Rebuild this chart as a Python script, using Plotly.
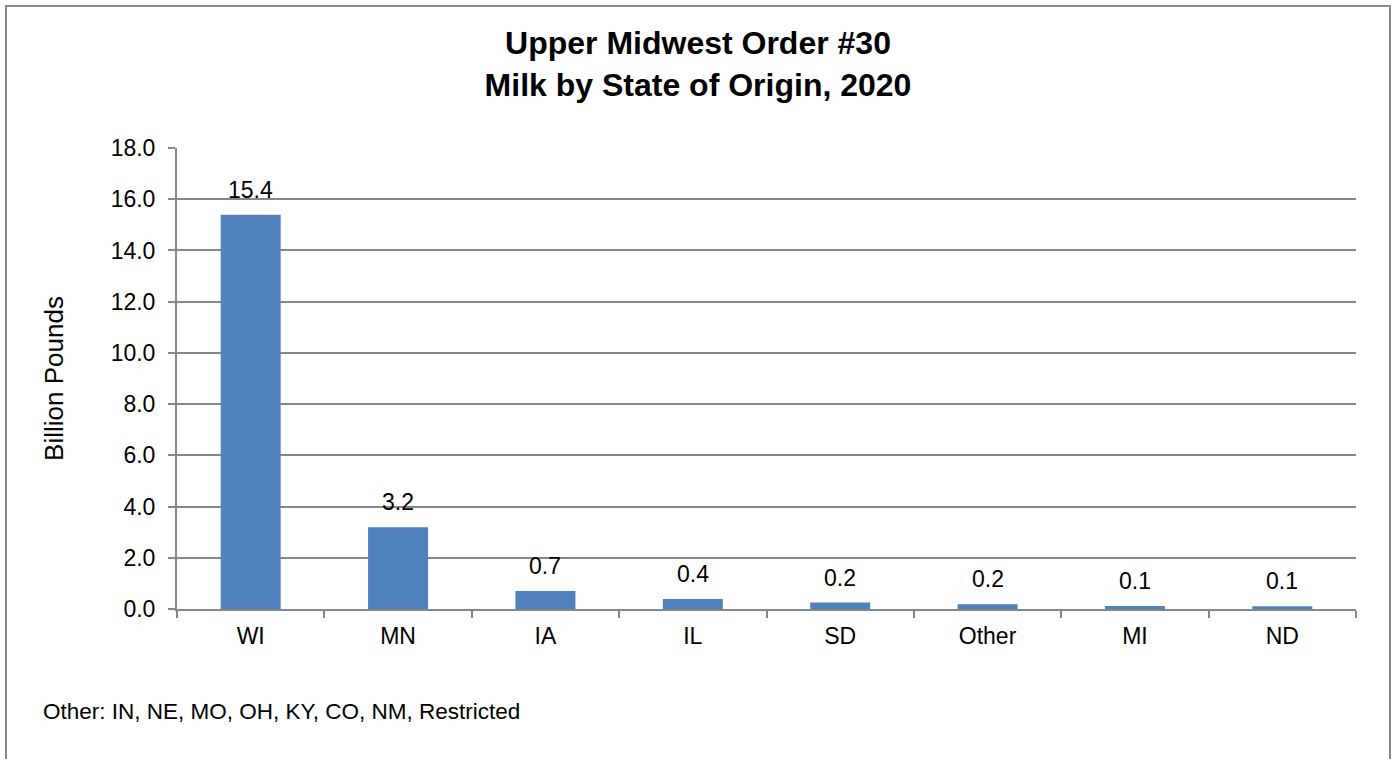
import plotly.graph_objects as go

states = ["WI", "MN", "IA", "IL", "SD", "Other", "MI", "ND"]
milk_billion_lbs = [15.39, 3.19, 0.70, 0.39, 0.25, 0.19, 0.12, 0.11]
y_ticks = [0, 2, 4, 6, 8, 10, 12, 14, 16, 18]
y_tick_labels = ["0.0", "2.0", "4.0", "6.0", "8.0", "10.0", "12.0", "14.0", "16.0", "18.0"]
footnote = "Other: IN, NE, MO, OH, KY, CO, NM, Restricted"

FONT = "Liberation Sans, Arial, sans-serif"
GRID = "#878787"

fig = go.Figure(go.Bar(
    x=states, y=milk_billion_lbs,
    marker=dict(color="#4f81bd", line=dict(width=0)),
    hoverinfo="x+y",
))

W, H = 1396, 759
L, R, T, B = 177, 40, 148, 150
pw, ph = W - L - R, H - T - B

def px(x):
    return (x - L) / pw

def py(y):
    return (H - B - y) / ph

annotations = [dict(
    x=s, y=v, xref="x", yref="y", text=f"{v:.1f}",
    showarrow=False, yanchor="bottom", yshift=10,
    font=dict(size=23, family=FONT, color="#000000"),
) for s, v in zip(states, milk_billion_lbs)]

annotations.append(dict(
    text=footnote,
    xref="paper", yref="paper", x=px(41), y=py(711),
    xanchor="left", yanchor="middle", showarrow=False,
    font=dict(size=22.5, family=FONT, color="#000000"),
))

fig.update_layout(
    width=W, height=H,
    margin=dict(l=L, r=R, t=T, b=B),
    paper_bgcolor="white", plot_bgcolor="white",
    font=dict(family=FONT, color="#000000"),
    showlegend=False,
    bargap=0.593,
    title=dict(
        text="<b>Upper Midwest Order #30<br>Milk by State of Origin, 2020</b>",
        x=px(698), xref="paper", xanchor="center",
        y=1 - 54 / H, yanchor="middle",
        font=dict(size=32, family=FONT, color="#000000"),
    ),
    xaxis=dict(
        showline=True, linecolor=GRID, linewidth=2,
        ticks="outside", ticklen=7, tickcolor=GRID, tickwidth=2,
        tickson="boundaries",
        ticklabelstandoff=5,
        tickfont=dict(size=23, family=FONT, color="#000000"),
        showgrid=False,
    ),
    yaxis=dict(
        range=[0, 18], tickvals=y_ticks, ticktext=y_tick_labels,
        showline=True, linecolor=GRID, linewidth=2,
        ticks="outside", ticklen=7, tickcolor=GRID, tickwidth=2,
        ticklabelstandoff=8,
        showgrid=True, gridcolor=GRID, gridwidth=2,
        zeroline=False,
        tickfont=dict(size=23, family=FONT, color="#000000"),
        title=dict(text="Billion Pounds", font=dict(size=26, family=FONT, color="#000000"), standoff=40),
    ),
    shapes=[dict(
        type="rect", xref="paper", yref="paper",
        x0=px(6), x1=px(1390), y0=py(790), y1=py(6),
        line=dict(color="#8a8a8a", width=2), fillcolor="rgba(0,0,0,0)", layer="below",
    )],
    annotations=annotations,
)

fig.write_html(
    "out.html",
    config={"displayModeBar": False},
    post_script="document.body.style.margin='0';document.body.style.overflow='hidden';",
)
